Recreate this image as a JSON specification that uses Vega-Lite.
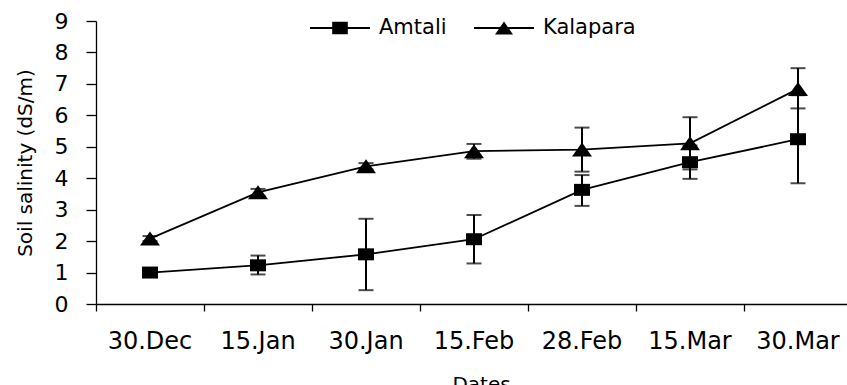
{
  "$schema": "https://vega.github.io/schema/vega-lite/v6.json",
  "autosize": {"type": "none"},
  "padding": {"left": 96, "top": 21, "right": 0, "bottom": 81},
  "width": 751,
  "height": 283,
  "background": "white",
  "config": {
    "view": {"stroke": null},
    "font": "DejaVu Sans",
    "axis": {
      "domainColor": "black", "tickColor": "black", "labelColor": "black", "titleColor": "black",
      "domainWidth": 1.3, "tickWidth": 1.3, "grid": false,
      "labelFont": "DejaVu Sans", "titleFont": "DejaVu Sans", "titleFontWeight": "normal"
    },
    "axisY": {"tickCount": 12, "labelOverlap": false},
    "legend": {"labelFont": "DejaVu Sans", "labelColor": "black"}
  },
  "data": {
    "values": [
      {"date": "30.Dec", "site": "Amtali", "v": 1.0, "lo": 0.93, "hi": 1.07},
      {"date": "15.Jan", "site": "Amtali", "v": 1.23, "lo": 0.94, "hi": 1.54},
      {"date": "30.Jan", "site": "Amtali", "v": 1.58, "lo": 0.44, "hi": 2.71},
      {"date": "15.Feb", "site": "Amtali", "v": 2.06, "lo": 1.29, "hi": 2.83},
      {"date": "28.Feb", "site": "Amtali", "v": 3.63, "lo": 3.12, "hi": 4.1},
      {"date": "15.Mar", "site": "Amtali", "v": 4.51, "lo": 3.98, "hi": 5.04},
      {"date": "30.Mar", "site": "Amtali", "v": 5.24, "lo": 3.84, "hi": 6.64},
      {"date": "30.Dec", "site": "Kalapara", "v": 2.08, "lo": 2.0, "hi": 2.16},
      {"date": "15.Jan", "site": "Kalapara", "v": 3.55, "lo": 3.44, "hi": 3.66},
      {"date": "30.Jan", "site": "Kalapara", "v": 4.38, "lo": 4.28, "hi": 4.48},
      {"date": "15.Feb", "site": "Kalapara", "v": 4.86, "lo": 4.62, "hi": 5.09},
      {"date": "28.Feb", "site": "Kalapara", "v": 4.91, "lo": 4.21, "hi": 5.61},
      {"date": "15.Mar", "site": "Kalapara", "v": 5.11, "lo": 4.28, "hi": 5.94},
      {"date": "30.Mar", "site": "Kalapara", "v": 6.84, "lo": 6.22, "hi": 7.5}
    ]
  },
  "encoding": {
    "x": {
      "field": "date", "type": "nominal",
      "sort": ["30.Dec", "15.Jan", "30.Jan", "15.Feb", "28.Feb", "15.Mar", "30.Mar"],
      "scale": {"type": "band", "range": [0, 756], "paddingInner": 0, "paddingOuter": 0},
      "axis": {
        "bandPosition": 0, "labelOffset": 0, "labelAngle": 0, "tickSize": 7, "labelPadding": 18,
        "labelFontSize": 24, "title": "Dates", "titleFontSize": 20,
        "titleX": 385, "titleY": 70, "titleBaseline": "top", "titleAlign": "center"
      }
    }
  },
  "layer": [
    {
      "mark": {"type": "rule", "color": "black", "strokeWidth": 2},
      "encoding": {
        "y": {
          "field": "lo", "type": "quantitative",
          "scale": {"domain": [0, 9], "nice": false, "zero": true},
          "axis": {
            "values": [0, 1, 2, 3, 4, 5, 6, 7, 8, 9], "tickCount": 12, "tickSize": 10, "labelPadding": 18,
            "labelFontSize": 22, "title": "Soil salinity (dS/m)", "titleFontSize": 20,
            "titleAngle": -90, "titleX": -71, "titleY": 141.5, "titleBaseline": "middle", "titleAlign": "center"
          }
        },
        "y2": {"field": "hi"}
      }
    },
    {
      "mark": {"type": "tick", "color": "black", "thickness": 2, "size": 15},
      "encoding": {"y": {"field": "lo", "type": "quantitative"}}
    },
    {
      "mark": {"type": "tick", "color": "black", "thickness": 2, "size": 15},
      "encoding": {"y": {"field": "hi", "type": "quantitative"}}
    },
    {
      "mark": {"type": "line", "color": "black", "strokeWidth": 1.8},
      "encoding": {
        "y": {"field": "v", "type": "quantitative"},
        "detail": {"field": "site"}
      }
    },
    {
      "mark": {"type": "point", "filled": true, "color": "black", "opacity": 1, "size": 400},
      "encoding": {
        "y": {"field": "v", "type": "quantitative"},
        "shape": {
          "field": "site", "type": "nominal",
          "scale": {"domain": ["Amtali", "Kalapara"], "range": ["M-0.8,-0.6H0.8V0.6H-0.8Z", "M-1,0.7L1,0.7L0,-0.7Z"]},
          "legend": null
        }
      }
    },
    {
      "transform": [{"filter": "false"}],
      "mark": {"type": "point", "filled": true, "color": "black", "opacity": 1, "size": 3600},
      "encoding": {
        "y": {"field": "v", "type": "quantitative"},
        "shape": {
          "field": "site", "type": "nominal",
          "scale": {
            "domain": ["Amtali", "Kalapara"],
            "range": [
              "M-1,-0.033H1V0.033H-1ZM-0.26,-0.205H0.26V0.205H-0.26Z",
              "M-1,-0.033H1V0.033H-1ZM0,-0.217L0.3,0.217L-0.3,0.217Z"
            ]
          },
          "legend": {
            "orient": "none", "legendX": 213, "legendY": -24, "direction": "horizontal",
            "title": null, "symbolSize": 3600,
            "labelFontSize": 21, "labelOffset": 8, "columnPadding": 24, "padding": 0
          }
        }
      }
    }
  ],
  "resolve": {"scale": {"shape": "independent"}, "legend": {"shape": "independent"}}
}
